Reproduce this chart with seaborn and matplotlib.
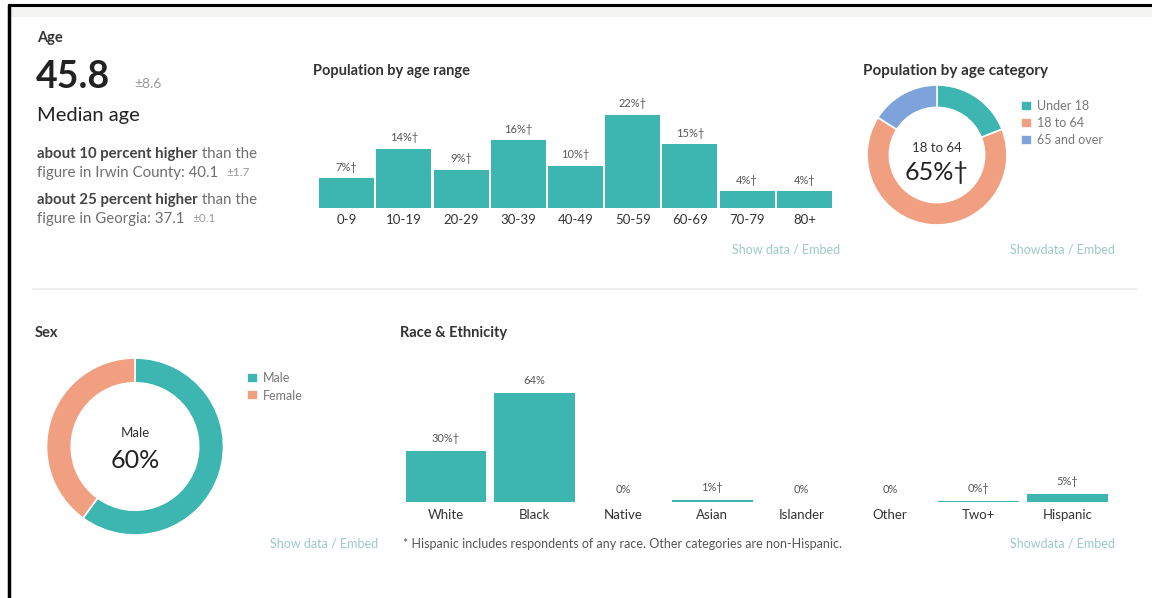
import matplotlib
matplotlib.use('Agg')
import matplotlib.pyplot as plt
import seaborn as sns
import pandas as pd
from matplotlib.lines import Line2D
from matplotlib.patches import Rectangle

# ---------------- data ----------------
age_ranges = ['0-9', '10-19', '20-29', '30-39', '40-49', '50-59', '60-69', '70-79', '80+']
age_pct = [7, 14, 9, 16, 10, 22, 15, 4, 4]
age_labels = ['7%†', '14%†', '9%†', '16%†', '10%†', '22%†', '15%†', '4%†', '4%†']

age_categories = ['Under 18', '18 to 64', '65 and over']
age_cat_pct = [19, 65, 16]

sex_categories = ['Male', 'Female']
sex_pct = [60, 40]

race_categories = ['White', 'Black', 'Native', 'Asian', 'Islander', 'Other', 'Two+', 'Hispanic']
race_pct = [30, 64, 0, 1, 0, 0, 0.5, 5]
race_labels = ['30%†', '64%', '0%', '1%†', '0%', '0%', '0%†', '5%†']

# ---------------- style ----------------
sns.set_style('white')
plt.rcParams['font.family'] = ['Lato', 'DejaVu Sans']

TEAL = '#3db5b0'
SALMON = '#f0a081'
BLUE = '#7ea2da'
DARK = '#222222'
GRAY = '#6f6f6f'
LINK = '#9cc9c5'

W, H = 1152, 598
fig = plt.figure(figsize=(W / 100, H / 100), dpi=100)
fig.patch.set_facecolor('white')


def ax_px(left, top, right, bottom):
    return fig.add_axes([left / W, 1 - bottom / H, (right - left) / W, (bottom - top) / H])


def T(x, y, s, **kw):
    kw.setdefault('va', 'center')
    return fig.text(x / W, 1 - y / H, s, **kw)


# frame decorations
fig.add_artist(Rectangle((10 / W, 1 - 17 / H), 1 - 10 / W, 11 / H, transform=fig.transFigure,
                         facecolor='#f3f3f1', edgecolor='none', zorder=0))
fig.add_artist(Line2D([9 / W, 1], [1 - 5 / H, 1 - 5 / H], color='black', lw=2.2))
fig.add_artist(Line2D([9 / W, 9 / W], [0, 1 - 5 / H], color='black', lw=2.5))
fig.add_artist(Line2D([33 / W, 1137 / W], [1 - 289 / H, 1 - 289 / H], color='#ececec', lw=1.2))

# ---------------- Age text block ----------------
T(37, 38, 'Age', fontsize=10.5, fontweight='bold', color='#333333')
T(36, 77, '45.8', fontsize=27, fontweight='bold', color=DARK)
T(134, 84, '±8.6', fontsize=10, color='#999999')
T(37, 116, 'Median age', fontsize=14.5, color=DARK)

renderer = fig.canvas.get_renderer()


def mixed(x, y, parts):
    for s, kw in parts:
        t = T(x, y, s, **kw)
        bb = t.get_window_extent(renderer=renderer)
        x = bb.x1 * (W / fig.bbox.width)


mixed(37, 154, [('about 10 percent higher', dict(fontsize=10.8, fontweight='bold', color='#444444')),
                (' than the', dict(fontsize=10.8, color=GRAY))])
mixed(37, 173, [('figure in Irwin County: 40.1  ', dict(fontsize=10.8, color=GRAY)),
                ('±1.7', dict(fontsize=8.5, color='#999999'))])
mixed(37, 200, [('about 25 percent higher', dict(fontsize=10.8, fontweight='bold', color='#444444')),
                (' than the', dict(fontsize=10.8, color=GRAY))])
mixed(37, 219, [('figure in Georgia: 37.1  ', dict(fontsize=10.8, color=GRAY)),
                ('±0.1', dict(fontsize=8.5, color='#999999'))])

# ---------------- Population by age range ----------------
T(313, 71, 'Population by age range', fontsize=10.5, fontweight='bold', color='#333333')
ax1 = ax_px(318, 100, 833, 208)
df_age = pd.DataFrame({'range': age_ranges, 'pct': age_pct})
sns.barplot(data=df_age, x='range', y='pct', color=TEAL, saturation=1, width=0.96,
            linewidth=0, ax=ax1)
ax1.set_xlim(-0.5, len(age_ranges) - 0.5)
ax1.set_ylim(0, 25.5)
ax1.bar_label(ax1.containers[0], labels=age_labels, padding=4, fontsize=8, color='#555555')
ax1.set_xlabel('')
ax1.set_ylabel('')
ax1.set_yticks([])
ax1.tick_params(axis='x', length=0, pad=4, labelsize=9.5, labelcolor='#333333')
sns.despine(ax=ax1, left=True, bottom=True)
ax1.set_facecolor('none')
T(840, 249, 'Show data / Embed', fontsize=9, color=LINK, ha='right')

# ---------------- Population by age category ----------------
T(863, 71, 'Population by age category', fontsize=11, fontweight='bold', color='#333333')
ax2 = ax_px(867, 85, 1007, 225)
w2, _ = ax2.pie(age_cat_pct, colors=[TEAL, SALMON, BLUE], startangle=90, counterclock=False,
                radius=1, wedgeprops=dict(width=0.32, edgecolor='white', linewidth=1.2))
ax2.set_xlim(-1, 1)
ax2.set_ylim(-1, 1)
ax2.set_aspect('equal')
ax2.axis('off')
T(937, 148, '18 to 64', fontsize=9.5, color='#333333', ha='center')
T(937, 172, '65%†', fontsize=18, color=DARK, ha='center')
ax2.legend(w2, age_categories, loc='upper left', bbox_to_anchor=(1021 / W, 1 - 100 / H),
           bbox_transform=fig.transFigure, frameon=False, fontsize=9, labelcolor='#777777',
           handlelength=0.85, handleheight=0.85, handletextpad=0.4, labelspacing=0.4,
           borderpad=0, borderaxespad=0)
T(1115, 249, 'Showdata / Embed', fontsize=9, color=LINK, ha='right')

# ---------------- Sex ----------------
T(35, 333, 'Sex', fontsize=10.5, fontweight='bold', color='#333333')
ax3 = ax_px(45, 358, 225, 535)
w3, _ = ax3.pie(sex_pct, colors=[TEAL, SALMON], startangle=90, counterclock=False,
                radius=1, wedgeprops=dict(width=0.28, edgecolor='white', linewidth=1.2))
ax3.set_xlim(-1, 1)
ax3.set_ylim(-1, 1)
ax3.set_aspect('equal')
ax3.axis('off')
T(135, 433, 'Male', fontsize=9.5, color='#333333', ha='center')
T(135, 460, '60%', fontsize=18, color=DARK, ha='center')
ax3.legend(w3, sex_categories, loc='upper left', bbox_to_anchor=(247 / W, 1 - 372 / H),
           bbox_transform=fig.transFigure, frameon=False, fontsize=9, labelcolor='#777777',
           handlelength=0.85, handleheight=0.85, handletextpad=0.45, labelspacing=0.45,
           borderpad=0, borderaxespad=0)
T(378, 544, 'Show data / Embed', fontsize=9, color=LINK, ha='right')

# ---------------- Race & Ethnicity ----------------
T(400, 333, 'Race & Ethnicity', fontsize=10.5, fontweight='bold', color='#333333')
ax4 = ax_px(401.6, 380, 1112, 502)
df_race = pd.DataFrame({'race': race_categories, 'pct': race_pct})
sns.barplot(data=df_race, x='race', y='pct', color=TEAL, saturation=1, width=0.91,
            linewidth=0, ax=ax4)
ax4.set_xlim(-0.5, len(race_categories) - 0.5)
ax4.set_ylim(0, 71.8)
ax4.bar_label(ax4.containers[0], labels=race_labels, padding=5, fontsize=8, color='#555555')
ax4.set_xlabel('')
ax4.set_ylabel('')
ax4.set_yticks([])
ax4.tick_params(axis='x', length=0, pad=5, labelsize=9.5, labelcolor='#333333')
sns.despine(ax=ax4, left=True, bottom=True)
ax4.set_facecolor('none')
T(403, 544, '* Hispanic includes respondents of any race. Other categories are non-Hispanic.',
  fontsize=9, color='#555555')
T(1115, 544, 'Showdata / Embed', fontsize=9, color=LINK, ha='right')

fig.savefig('out.png', dpi=100)
